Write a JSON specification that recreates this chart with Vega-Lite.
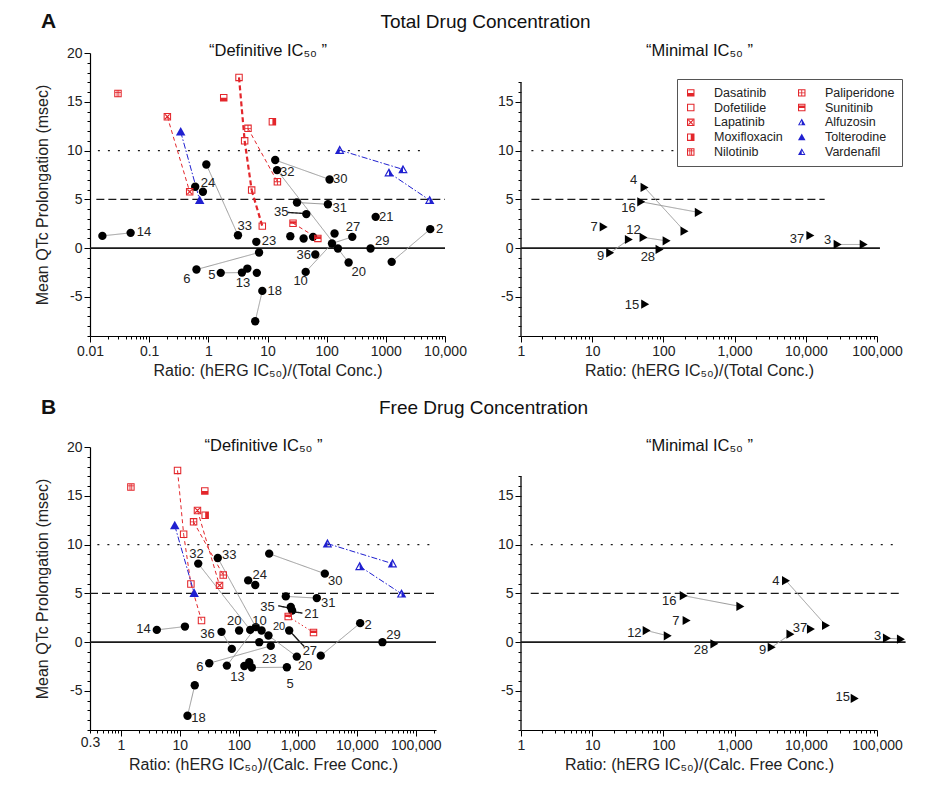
{
  "$schema": "https://vega.github.io/schema/vega-lite/v6.json",
  "padding": {"left": 33, "top": 10, "right": 5, "bottom": 5},
  "config": {
    "font": "Liberation Sans",
    "view": {"stroke": null},
    "axis": {"grid": false, "domainColor": "#000", "domainWidth": 1.2, "tickColor": "#000", "tickWidth": 1, "labelColor": "#222", "labelFontSize": 14, "titleColor": "#222", "titleFontSize": 16, "titleFontWeight": "normal", "labelPadding": 2},
    "title": {"color": "#111", "fontWeight": "normal", "baseline": "alphabetic"},
    "legend": {"orient": "none", "legendX": 587, "legendY": 26, "columnPadding": 12, "rowPadding": 1.8, "symbolSize": 56, "labelFontSize": 12.5, "labelColor": "#222", "labelOffset": 17, "padding": 7.5, "strokeColor": "#555", "fillColor": "#fff", "symbolStrokeWidth": 0}
  },
  "datasets": {
    "tls": [
      {"x": 0.01, "x2": 10000, "y": 0, "y2": 0, "s": "solid"},
      {"x": 0.0128, "x2": 10000, "y": 5, "y2": 5, "s": "dashed"},
      {"x": 0.0136, "x2": 3900, "y": 10, "y2": 10, "s": "dotted"},
      {"x": 0.0162, "y": 1.26, "x2": 0.0486, "y2": 1.57, "s": "gray"},
      {"x": 0.925, "y": 8.58, "x2": 3.17, "y2": 1.33, "s": "gray"},
      {"x": 0.63, "y": -2.19, "x2": 7.2, "y2": -0.44, "s": "gray"},
      {"x": 1.62, "y": -2.53, "x2": 3.7, "y2": -2.5, "s": "gray"},
      {"x": 8.17, "y": -4.38, "x2": 6.2, "y2": -7.49, "s": "gray"},
      {"x": 13.5, "y": 9.03, "x2": 112, "y2": 7.04, "s": "gray"},
      {"x": 14.5, "y": 8.0, "x2": 235, "y2": -1.47, "s": "gray"},
      {"x": 31.5, "y": 4.68, "x2": 105, "y2": 4.5, "s": "gray"},
      {"x": 5630, "y": 1.95, "x2": 1256, "y2": -1.4, "s": "gray"},
      {"x": 271, "y": 1.16, "x2": 123, "y2": 0.48, "s": "gray"},
      {"x": 44.2, "y": -2.43, "x2": 123, "y2": 0.48, "s": "gray"},
      {"x": 22.2, "y": 3.66, "x2": 39.8, "y2": 3.56, "s": "arrow"},
      {"x": 0.203, "y": 13.47, "x2": 0.484, "y2": 5.78, "s": "rthin"},
      {"x": 3.3, "y": 17.5, "x2": 4.11, "y2": 11.0, "s": "rthick"},
      {"x": 4.11, "y": 11.0, "x2": 5.4, "y2": 5.95, "s": "rthick"},
      {"x": 5.4, "y": 5.95, "x2": 8.17, "y2": 2.26, "s": "rthick"},
      {"x": 4.68, "y": 12.28, "x2": 14.7, "y2": 6.8, "s": "rthin"},
      {"x": 27, "y": 2.56, "x2": 71, "y2": 1.0, "s": "rthin"},
      {"x": 0.341, "y": 11.93, "x2": 0.714, "y2": 4.92, "s": "bdd"},
      {"x": 166, "y": 10.05, "x2": 1950, "y2": 8.07, "s": "bdd"},
      {"x": 1130, "y": 7.73, "x2": 5510, "y2": 4.92, "s": "bdd"}
    ],
    "tlp": [
      {"x": 0.0162, "y": 1.26, "sym": "dot"}, {"x": 0.0486, "y": 1.57, "sym": "dot"},
      {"x": 0.6, "y": 6.29, "sym": "dot"}, {"x": 0.81, "y": 5.78, "sym": "dot"},
      {"x": 0.925, "y": 8.58, "sym": "dot"}, {"x": 3.17, "y": 1.33, "sym": "dot"},
      {"x": 6.47, "y": 0.65, "sym": "dot"}, {"x": 0.63, "y": -2.19, "sym": "dot"},
      {"x": 7.2, "y": -0.44, "sym": "dot"}, {"x": 1.62, "y": -2.53, "sym": "dot"},
      {"x": 3.7, "y": -2.5, "sym": "dot"}, {"x": 4.57, "y": -2.09, "sym": "dot"},
      {"x": 6.6, "y": -2.53, "sym": "dot"}, {"x": 8.17, "y": -4.38, "sym": "dot"},
      {"x": 6.2, "y": -7.49, "sym": "dot"}, {"x": 13.5, "y": 9.03, "sym": "dot"},
      {"x": 112, "y": 7.04, "sym": "dot"}, {"x": 14.5, "y": 8.0, "sym": "dot"},
      {"x": 235, "y": -1.47, "sym": "dot"}, {"x": 31.5, "y": 4.68, "sym": "dot"},
      {"x": 105, "y": 4.5, "sym": "dot"}, {"x": 45.3, "y": 3.49, "sym": "dot"},
      {"x": 673, "y": 3.21, "sym": "dot"}, {"x": 5630, "y": 1.95, "sym": "dot"},
      {"x": 1256, "y": -1.4, "sym": "dot"}, {"x": 24.3, "y": 1.23, "sym": "dot"},
      {"x": 40.8, "y": 0.99, "sym": "dot"}, {"x": 58.9, "y": 1.16, "sym": "dot"},
      {"x": 136, "y": 1.5, "sym": "dot"}, {"x": 271, "y": 1.16, "sym": "dot"},
      {"x": 123, "y": 0.48, "sym": "dot"}, {"x": 155, "y": -0.03, "sym": "dot"},
      {"x": 552, "y": -0.03, "sym": "dot"}, {"x": 64.3, "y": -0.65, "sym": "dot"},
      {"x": 44.2, "y": -2.43, "sym": "dot"},
      {"x": 0.0297, "y": 15.85, "sym": "Nilotinib"},
      {"x": 0.203, "y": 13.47, "sym": "Lapatinib"}, {"x": 0.484, "y": 5.78, "sym": "Lapatinib"},
      {"x": 0.341, "y": 11.93, "sym": "Tolterodine"}, {"x": 0.714, "y": 4.92, "sym": "Tolterodine"},
      {"x": 1.82, "y": 15.42, "sym": "Dasatinib"},
      {"x": 3.3, "y": 17.5, "sym": "Dofetilide"}, {"x": 4.11, "y": 11.0, "sym": "Dofetilide"},
      {"x": 5.4, "y": 5.95, "sym": "Dofetilide"}, {"x": 8.17, "y": 2.26, "sym": "Dofetilide"},
      {"x": 12.1, "y": 12.95, "sym": "Moxifloxacin"},
      {"x": 4.68, "y": 12.28, "sym": "Paliperidone"}, {"x": 14.7, "y": 6.8, "sym": "Paliperidone"},
      {"x": 27, "y": 2.56, "sym": "Sunitinib"}, {"x": 71, "y": 1.0, "sym": "Sunitinib"},
      {"x": 166, "y": 10.05, "sym": "Vardenafil"}, {"x": 1950, "y": 8.07, "sym": "Vardenafil"},
      {"x": 1130, "y": 7.73, "sym": "Alfuzosin"}, {"x": 5510, "y": 4.92, "sym": "Alfuzosin"}
    ],
    "tll": [
      {"x": 0.0818, "y": 1.61, "t": "14"}, {"x": 0.987, "y": 6.7, "t": "24"},
      {"x": 4.11, "y": 2.29, "t": "33"}, {"x": 10.6, "y": 0.72, "t": "23"},
      {"x": 0.435, "y": -3.11, "t": "6"}, {"x": 1.15, "y": -2.77, "t": "5"},
      {"x": 3.85, "y": -3.62, "t": "13"}, {"x": 13.2, "y": -4.38, "t": "18"},
      {"x": 21.6, "y": 7.83, "t": "32"}, {"x": 170, "y": 7.04, "t": "30"},
      {"x": 166, "y": 4.14, "t": "31"}, {"x": 17.1, "y": 3.72, "t": "35"},
      {"x": 279, "y": 2.19, "t": "27"}, {"x": 1020, "y": 3.21, "t": "21"},
      {"x": 871, "y": 0.75, "t": "29"}, {"x": 8130, "y": 1.95, "t": "2"},
      {"x": 40.8, "y": -0.72, "t": "36"}, {"x": 36.3, "y": -3.38, "t": "10"},
      {"x": 347, "y": -2.43, "t": "20"}
    ],
    "trs": [
      {"x": 1, "x2": 110000, "y": 0, "y2": 0, "s": "solid"},
      {"x": 1.4, "x2": 18400, "y": 5, "y2": 5, "s": "dashed"},
      {"x": 1.4, "x2": 176, "y": 10, "y2": 10, "s": "dotted"},
      {"x": 1, "x2": 1, "y": -9, "y2": 17, "s": "axis"},
      {"x": 54.4, "y": 6.22, "x2": 198, "y2": 1.74, "s": "gray"},
      {"x": 48.8, "y": 4.75, "x2": 314, "y2": 3.66, "s": "gray"},
      {"x": 52.6, "y": 1.1, "x2": 111, "y2": 0.75, "s": "gray"},
      {"x": 17.9, "y": -0.48, "x2": 32.7, "y2": 0.89, "s": "gray"},
      {"x": 28000, "y": 0.38, "x2": 65000, "y2": 0.38, "s": "gray"}
    ],
    "trp": [
      {"x": 54.4, "y": 6.22, "sym": "tri"}, {"x": 198, "y": 1.74, "sym": "tri"},
      {"x": 48.8, "y": 4.75, "sym": "tri"}, {"x": 314, "y": 3.66, "sym": "tri"},
      {"x": 14.5, "y": 2.18, "sym": "tri"},
      {"x": 52.6, "y": 1.1, "sym": "tri"}, {"x": 111, "y": 0.75, "sym": "tri"},
      {"x": 17.9, "y": -0.48, "sym": "tri"}, {"x": 32.7, "y": 0.89, "sym": "tri"},
      {"x": 88.3, "y": -0.13, "sym": "tri"}, {"x": 55.5, "y": -5.74, "sym": "tri"},
      {"x": 11600, "y": 1.3, "sym": "tri"},
      {"x": 28000, "y": 0.38, "sym": "tri"}, {"x": 65000, "y": 0.38, "sym": "tri"}
    ],
    "trl": [
      {"x": 38.1, "y": 6.97, "t": "4"}, {"x": 32.4, "y": 4.07, "t": "16"},
      {"x": 10.6, "y": 2.18, "t": "7"}, {"x": 38.1, "y": 1.85, "t": "12"},
      {"x": 13.1, "y": -0.79, "t": "9"}, {"x": 60.5, "y": -0.95, "t": "28"},
      {"x": 36.1, "y": -5.85, "t": "15"}, {"x": 7530, "y": 0.99, "t": "37"},
      {"x": 20300, "y": 0.82, "t": "3"}
    ],
    "bls": [
      {"x": 0.3, "x2": 220000, "y": 0, "y2": 0, "s": "solid"},
      {"x": 0.3, "x2": 220000, "y": 5, "y2": 5, "s": "dashed"},
      {"x": 0.4, "x2": 207000, "y": 10, "y2": 10, "s": "dotted"},
      {"x": 4.07, "y": 1.26, "x2": 12.2, "y2": 1.6, "s": "gray"},
      {"x": 17.9, "y": -4.42, "x2": 13.5, "y2": -7.54, "s": "gray"},
      {"x": 20.5, "y": 8.05, "x2": 156, "y2": 1.26, "s": "gray"},
      {"x": 44, "y": 8.63, "x2": 194, "y2": 1.54, "s": "gray"},
      {"x": 327, "y": 9.07, "x2": 2870, "y2": 7.02, "s": "gray"},
      {"x": 50.9, "y": 1.06, "x2": 76, "y2": -0.69, "s": "gray"},
      {"x": 243, "y": 1.2, "x2": 961, "y2": -1.48, "s": "gray"},
      {"x": 31.5, "y": -2.16, "x2": 348, "y2": -0.38, "s": "gray"},
      {"x": 166, "y": -2.6, "x2": 652, "y2": -2.57, "s": "gray"},
      {"x": 626, "y": 4.69, "x2": 2100, "y2": 4.52, "s": "gray"},
      {"x": 2450, "y": -1.38, "x2": 11400, "y2": 1.95, "s": "gray"},
      {"x": 62.7, "y": -2.4, "x2": 194, "y2": 1.54, "s": "gray"},
      {"x": 466, "y": 3.73, "x2": 687, "y2": 3.52, "s": "arrow"},
      {"x": 1200, "y": 2.98, "x2": 890, "y2": 3.1, "s": "arrow"},
      {"x": 714, "y": 1.2, "x2": 1283, "y2": -0.45, "s": "arrow"},
      {"x": 9.14, "y": 17.6, "x2": 11.6, "y2": 11.06, "s": "rthin"},
      {"x": 11.6, "y": 11.06, "x2": 15.4, "y2": 5.96, "s": "rthin"},
      {"x": 15.4, "y": 5.96, "x2": 23.3, "y2": 2.22, "s": "rthin"},
      {"x": 19.9, "y": 13.5, "x2": 47.1, "y2": 5.82, "s": "rthin"},
      {"x": 17.1, "y": 12.33, "x2": 54.4, "y2": 6.88, "s": "rthin"},
      {"x": 687, "y": 2.63, "x2": 1845, "y2": 0.99, "s": "rdot"},
      {"x": 8.2, "y": 11.95, "x2": 17.5, "y2": 5.03, "s": "bdd"},
      {"x": 3180, "y": 10.1, "x2": 40300, "y2": 8.05, "s": "bdd"},
      {"x": 11200, "y": 7.77, "x2": 57300, "y2": 4.96, "s": "bdd"}
    ],
    "blp": [
      {"x": 4.07, "y": 1.26, "sym": "dot"}, {"x": 12.2, "y": 1.6, "sym": "dot"},
      {"x": 20.5, "y": 8.05, "sym": "dot"}, {"x": 44, "y": 8.63, "sym": "dot"},
      {"x": 327, "y": 9.07, "sym": "dot"}, {"x": 2870, "y": 7.02, "sym": "dot"},
      {"x": 144, "y": 6.33, "sym": "dot"}, {"x": 190, "y": 5.86, "sym": "dot"},
      {"x": 50.9, "y": 1.06, "sym": "dot"}, {"x": 76, "y": -0.69, "sym": "dot"},
      {"x": 101, "y": 1.2, "sym": "dot"}, {"x": 156, "y": 1.26, "sym": "dot"},
      {"x": 194, "y": 1.54, "sym": "dot"}, {"x": 243, "y": 1.2, "sym": "dot"},
      {"x": 318, "y": 0.68, "sym": "dot"}, {"x": 222, "y": 0.0, "sym": "dot"},
      {"x": 348, "y": -0.38, "sym": "dot"}, {"x": 31.5, "y": -2.16, "sym": "dot"},
      {"x": 62.7, "y": -2.4, "sym": "dot"}, {"x": 124, "y": -2.44, "sym": "dot"},
      {"x": 150, "y": -2.06, "sym": "dot"}, {"x": 166, "y": -2.6, "sym": "dot"},
      {"x": 652, "y": -2.57, "sym": "dot"}, {"x": 17.9, "y": -4.42, "sym": "dot"},
      {"x": 13.5, "y": -7.54, "sym": "dot"}, {"x": 626, "y": 4.69, "sym": "dot"},
      {"x": 2100, "y": 4.52, "sym": "dot"}, {"x": 760, "y": 3.6, "sym": "dot"},
      {"x": 800, "y": 3.25, "sym": "dot"}, {"x": 714, "y": 1.2, "sym": "dot"},
      {"x": 961, "y": -1.48, "sym": "dot"}, {"x": 2450, "y": -1.38, "sym": "dot"},
      {"x": 11400, "y": 1.95, "sym": "dot"}, {"x": 27200, "y": 0.0, "sym": "dot"},
      {"x": 1.48, "y": 15.9, "sym": "Nilotinib"},
      {"x": 9.14, "y": 17.6, "sym": "Dofetilide"}, {"x": 11.6, "y": 11.06, "sym": "Dofetilide"},
      {"x": 15.4, "y": 5.96, "sym": "Dofetilide"}, {"x": 23.3, "y": 2.22, "sym": "Dofetilide"},
      {"x": 26.5, "y": 15.5, "sym": "Dasatinib"},
      {"x": 26.9, "y": 13.0, "sym": "Moxifloxacin"},
      {"x": 19.9, "y": 13.5, "sym": "Lapatinib"}, {"x": 47.1, "y": 5.82, "sym": "Lapatinib"},
      {"x": 17.1, "y": 12.33, "sym": "Paliperidone"}, {"x": 54.4, "y": 6.88, "sym": "Paliperidone"},
      {"x": 8.2, "y": 11.95, "sym": "Tolterodine"}, {"x": 17.5, "y": 5.03, "sym": "Tolterodine"},
      {"x": 687, "y": 2.63, "sym": "Sunitinib"}, {"x": 1845, "y": 0.99, "sym": "Sunitinib"},
      {"x": 3180, "y": 10.1, "sym": "Vardenafil"}, {"x": 40300, "y": 8.05, "sym": "Vardenafil"},
      {"x": 11200, "y": 7.77, "sym": "Alfuzosin"}, {"x": 57300, "y": 4.96, "sym": "Alfuzosin"}
    ],
    "bll": [
      {"x": 2.42, "y": 1.34, "t": "14"}, {"x": 19.2, "y": 9.07, "t": "32"},
      {"x": 68.8, "y": 8.97, "t": "33"}, {"x": 227, "y": 6.92, "t": "24"},
      {"x": 4300, "y": 6.3, "t": "30"}, {"x": 3270, "y": 4.0, "t": "31"},
      {"x": 306, "y": 3.62, "t": "35"}, {"x": 1710, "y": 2.91, "t": "21"},
      {"x": 83.5, "y": 2.22, "t": "20"}, {"x": 225, "y": 2.2, "t": "10"},
      {"x": 480, "y": 1.6, "t": "20"}, {"x": 29.5, "y": 0.82, "t": "36"},
      {"x": 15600, "y": 1.78, "t": "2"}, {"x": 41900, "y": 0.75, "t": "29"},
      {"x": 1600, "y": -0.89, "t": "27"}, {"x": 327, "y": -1.72, "t": "23"},
      {"x": 1330, "y": -2.44, "t": "20"}, {"x": 21.8, "y": -2.5, "t": "6"},
      {"x": 95, "y": -3.53, "t": "13"}, {"x": 743, "y": -4.29, "t": "5"},
      {"x": 20.7, "y": -7.81, "t": "18"}
    ],
    "brs": [
      {"x": 1, "x2": 252000, "y": 0, "y2": 0, "s": "solid"},
      {"x": 1.37, "x2": 208000, "y": 5, "y2": 5, "s": "dashed"},
      {"x": 1.37, "x2": 195000, "y": 10, "y2": 10, "s": "dotted"},
      {"x": 1, "x2": 1, "y": -9, "y2": 17, "s": "axis"},
      {"x": 5270, "y": 6.3, "x2": 19200, "y2": 1.71, "s": "gray"},
      {"x": 193, "y": 4.76, "x2": 1205, "y2": 3.66, "s": "gray"},
      {"x": 58.2, "y": 1.19, "x2": 115, "y2": 0.65, "s": "gray"},
      {"x": 3320, "y": -0.52, "x2": 6080, "y2": 0.82, "s": "gray"},
      {"x": 138000, "y": 0.41, "x2": 217000, "y2": 0.31, "s": "gray"}
    ],
    "brp": [
      {"x": 5270, "y": 6.3, "sym": "tri"}, {"x": 19200, "y": 1.71, "sym": "tri"},
      {"x": 193, "y": 4.76, "sym": "tri"}, {"x": 1205, "y": 3.66, "sym": "tri"},
      {"x": 212, "y": 2.22, "sym": "tri"},
      {"x": 58.2, "y": 1.19, "sym": "tri"}, {"x": 115, "y": 0.65, "sym": "tri"},
      {"x": 520, "y": -0.17, "sym": "tri"},
      {"x": 3320, "y": -0.52, "sym": "tri"}, {"x": 6080, "y": 0.82, "sym": "tri"},
      {"x": 11800, "y": 1.34, "sym": "tri"},
      {"x": 138000, "y": 0.41, "sym": "tri"}, {"x": 217000, "y": 0.31, "sym": "tri"},
      {"x": 48600, "y": -5.76, "sym": "tri"}
    ],
    "brl": [
      {"x": 3810, "y": 6.3, "t": "4"}, {"x": 121, "y": 4.17, "t": "16"},
      {"x": 150, "y": 2.22, "t": "7"}, {"x": 39.1, "y": 0.99, "t": "12"},
      {"x": 337, "y": -0.79, "t": "28"}, {"x": 2480, "y": -0.79, "t": "9"},
      {"x": 8300, "y": 1.5, "t": "37"}, {"x": 102000, "y": 0.65, "t": "3"},
      {"x": 33000, "y": -5.65, "t": "15"}
    ]
  },
  "columns": 2,
  "bounds": "flush",
  "spacing": {"row": 111, "column": 76},
  "concat": [
    {
      "width": 355,
      "height": 283,
      "title": {"text": "A", "anchor": "start", "frame": "group", "dx": -49, "fontSize": 21, "fontWeight": "bold", "offset": 11},
      "resolve": {"axis": {"x": "independent", "y": "independent"}},
      "layer": [
        {
          "data": {"name": "tls"},
          "mark": {"type": "rule"},
          "encoding": {
            "x": {"field": "x", "type": "quantitative", "scale": {"type": "log", "domain": [0.01, 10000], "nice": false},
              "axis": {"orient": "bottom", "title": "Ratio:  (hERG IC₅₀)/(Total Conc.)", "tickCount": 20, "labelFlush": false, "labelOverlap": false, "titlePadding": 4,
                "labelExpr": "abs(log(datum.value)/LN10 - round(log(datum.value)/LN10)) < 0.001 ? (datum.value > 5000 ? format(datum.value, ',') : format(datum.value, '')) : ''",
                "tickSize": {"condition": {"test": "abs(log(datum.value)/LN10 - round(log(datum.value)/LN10)) < 0.001", "value": 6}, "value": 3}}},
            "x2": {"field": "x2"},
            "y": {"field": "y", "type": "quantitative", "scale": {"domain": [-9, 20], "nice": false, "zero": false},
              "axis": {"orient": "left", "title": "Mean QTc  Prolongation (msec)", "titleX": -40, "labelOverlap": false,
                "values": [-9, -8, -7, -6, -5, -4, -3, -2, -1, 0, 1, 2, 3, 4, 5, 6, 7, 8, 9, 10, 11, 12, 13, 14, 15, 16, 17, 18, 19, 20],
                "labelExpr": "datum.value % 5 == 0 ? '' + datum.value : ''",
                "tickSize": {"condition": {"test": "datum.value % 5 == 0", "value": 6}, "value": 3}}},
            "y2": {"field": "y2"},
            "strokeDash": {"field": "s", "type": "nominal", "legend": null,
              "scale": {"domain": ["solid", "dashed", "dotted", "gray", "arrow", "axis", "rthick", "rthin", "rdot", "bdd"],
                "range": [[1, 0], [8, 4], [2, 8], [1, 0], [1, 0], [1, 0], [5, 3], [4, 3], [1.5, 2.5], [6, 2, 1.5, 2]]}},
            "color": {"condition": [{"test": "datum.s == 'gray'", "value": "#9a9a9a"}, {"test": "indexof(['rthick', 'rthin', 'rdot'], datum.s) >= 0", "value": "#e3262b"}, {"test": "datum.s == 'bdd'", "value": "#2020d0"}], "value": "#1a1a1a"},
            "strokeWidth": {"condition": [{"test": "datum.s == 'rthick'", "value": 2.2}, {"test": "datum.s == 'solid'", "value": 1.8}, {"test": "indexof(['dashed', 'dotted', 'axis', 'arrow'], datum.s) >= 0", "value": 1.4}], "value": 1}
          }
        },
        {
          "data": {"name": "tlp"},
          "mark": {"type": "point", "filled": true, "opacity": 1},
          "encoding": {
            "x": {"field": "x", "type": "quantitative", "axis": null},
            "y": {"field": "y", "type": "quantitative", "axis": null},
            "shape": {"field": "sym", "type": "nominal", "legend": {"title": null, "columns": 2, "values": ["Dasatinib", "Dofetilide", "Lapatinib", "Moxifloxacin", "Nilotinib", "Paliperidone", "Sunitinib", "Alfuzosin", "Tolterodine", "Vardenafil"]},
              "scale": {"domain": ["Dasatinib", "Dofetilide", "Lapatinib", "Moxifloxacin", "Nilotinib", "Paliperidone", "Sunitinib", "Alfuzosin", "Tolterodine", "Vardenafil", "dot", "tri"],
                "range": ["M-1,-1H1V1H-1Z M-0.72,-0.72V0.72H0.72V-0.72Z M-1,0H1V1H-1Z", "M-1,-1H1V1H-1Z M-0.72,-0.72V0.72H0.72V-0.72Z", "M-1,-1H1V1H-1Z M-0.72,-0.72V0.72H0.72V-0.72Z M-0.72,-0.5L-0.5,-0.72L0.72,0.5L0.5,0.72Z M0.5,-0.72L0.72,-0.5L-0.5,0.72L-0.72,0.5Z", "M-1,-1H1V1H-1Z M-0.72,-0.72V0.72H0.72V-0.72Z M0,-1H1V1H0Z", "M-1,-1H1V1H-1Z M-0.72,-0.72V0.72H0.72V-0.72Z M-0.36,-1H-0.12V1H-0.36Z M0.12,-1H0.36V1H0.12Z M-1,-0.42H1V-0.18H-1Z", "M-1,-1H1V1H-1Z M-0.72,-0.72V0.72H0.72V-0.72Z M-0.12,-1H0.12V1H-0.12Z M-1,-0.12H1V0.12H-1Z", "M-1,-1H1V1H-1Z M-0.72,-0.72V0.72H0.72V-0.72Z M-1,-0.55H1V0.15H-1Z", "M0,-1L1,0.8H-1Z M0,-0.42L-0.6,0.55H0.6Z M0,-1L1,0.8H0Z", "M0,-1L1,0.8H-1Z", "M0,-1L1,0.8H-1Z M0,-0.42L-0.6,0.55H0.6Z M0,-1V0.8H-1Z", "circle", "triangle-right"]}},
            "color": {"field": "sym", "type": "nominal", "legend": {"title": null, "columns": 2, "values": ["Dasatinib", "Dofetilide", "Lapatinib", "Moxifloxacin", "Nilotinib", "Paliperidone", "Sunitinib", "Alfuzosin", "Tolterodine", "Vardenafil"]},
              "scale": {"domain": ["Dasatinib", "Dofetilide", "Lapatinib", "Moxifloxacin", "Nilotinib", "Paliperidone", "Sunitinib", "Alfuzosin", "Tolterodine", "Vardenafil", "dot", "tri"],
                "range": ["#e3262b", "#e3262b", "#e3262b", "#e3262b", "#e3262b", "#e3262b", "#e3262b", "#2020d0", "#2020d0", "#2020d0", "#000000", "#000000"]}},
            "size": {"condition": [{"test": "datum.sym == 'dot'", "value": 70}, {"test": "datum.sym == 'tri'", "value": 85}, {"test": "indexof(['Alfuzosin', 'Tolterodine', 'Vardenafil'], datum.sym) >= 0", "value": 90}], "value": 56}
          }
        },
        {
          "data": {"name": "tll"},
          "mark": {"type": "text", "fontSize": 13, "color": "#222"},
          "encoding": {
            "x": {"field": "x", "type": "quantitative", "axis": {"orient": "top", "title": "“Definitive IC₅₀ ”", "labels": false, "ticks": false, "domain": false, "titleY": -2.5, "titleBaseline": "middle", "titleFontSize": 16.5, "titleColor": "#111"}},
            "y": {"field": "y", "type": "quantitative", "axis": null},
            "text": {"field": "t"}
          }
        }
      ]
    },
    {
      "width": 356,
      "height": 283,
      "title": {"text": "Total Drug Concentration", "anchor": "middle", "frame": "group", "dx": -213.5, "fontSize": 19, "offset": 11},
      "resolve": {"axis": {"x": "independent", "y": "independent"}},
      "layer": [
        {
          "data": {"name": "trs"},
          "mark": {"type": "rule"},
          "encoding": {
            "x": {"field": "x", "type": "quantitative", "scale": {"type": "log", "domain": [1, 100000], "nice": false},
              "axis": {"orient": "bottom", "title": "Ratio:  (hERG IC₅₀)/(Total Conc.)", "tickCount": 20, "labelFlush": false, "labelOverlap": false, "titlePadding": 4,
                "labelExpr": "abs(log(datum.value)/LN10 - round(log(datum.value)/LN10)) < 0.001 ? format(datum.value, ',') : ''",
                "tickSize": {"condition": {"test": "abs(log(datum.value)/LN10 - round(log(datum.value)/LN10)) < 0.001", "value": 6}, "value": 3}}},
            "x2": {"field": "x2"},
            "y": {"field": "y", "type": "quantitative", "scale": {"domain": [-9, 20], "nice": false, "zero": false},
              "axis": {"orient": "left", "title": null, "domain": false, "labelOverlap": false,
                "values": [-9, -8, -7, -6, -5, -4, -3, -2, -1, 0, 1, 2, 3, 4, 5, 6, 7, 8, 9, 10, 11, 12, 13, 14, 15, 16, 17],
                "labelExpr": "datum.value % 5 == 0 ? '' + datum.value : ''",
                "tickSize": {"condition": {"test": "datum.value % 5 == 0", "value": 6}, "value": 3}}},
            "y2": {"field": "y2"},
            "strokeDash": {"field": "s", "type": "nominal", "legend": null,
              "scale": {"domain": ["solid", "dashed", "dotted", "gray", "arrow", "axis", "rthick", "rthin", "rdot", "bdd"],
                "range": [[1, 0], [8, 4], [2, 8], [1, 0], [1, 0], [1, 0], [5, 3], [4, 3], [1.5, 2.5], [6, 2, 1.5, 2]]}},
            "color": {"condition": [{"test": "datum.s == 'gray'", "value": "#9a9a9a"}], "value": "#1a1a1a"},
            "strokeWidth": {"condition": [{"test": "datum.s == 'solid'", "value": 1.8}, {"test": "indexof(['dashed', 'dotted', 'axis'], datum.s) >= 0", "value": 1.4}], "value": 1}
          }
        },
        {
          "data": {"name": "trp"},
          "mark": {"type": "point", "filled": true, "opacity": 1},
          "encoding": {
            "x": {"field": "x", "type": "quantitative", "axis": null},
            "y": {"field": "y", "type": "quantitative", "axis": null},
            "shape": {"field": "sym", "type": "nominal", "legend": {"title": null, "columns": 2, "values": ["Dasatinib", "Dofetilide", "Lapatinib", "Moxifloxacin", "Nilotinib", "Paliperidone", "Sunitinib", "Alfuzosin", "Tolterodine", "Vardenafil"]},
              "scale": {"domain": ["Dasatinib", "Dofetilide", "Lapatinib", "Moxifloxacin", "Nilotinib", "Paliperidone", "Sunitinib", "Alfuzosin", "Tolterodine", "Vardenafil", "dot", "tri"],
                "range": ["M-1,-1H1V1H-1Z M-0.72,-0.72V0.72H0.72V-0.72Z M-1,0H1V1H-1Z", "M-1,-1H1V1H-1Z M-0.72,-0.72V0.72H0.72V-0.72Z", "M-1,-1H1V1H-1Z M-0.72,-0.72V0.72H0.72V-0.72Z M-0.72,-0.5L-0.5,-0.72L0.72,0.5L0.5,0.72Z M0.5,-0.72L0.72,-0.5L-0.5,0.72L-0.72,0.5Z", "M-1,-1H1V1H-1Z M-0.72,-0.72V0.72H0.72V-0.72Z M0,-1H1V1H0Z", "M-1,-1H1V1H-1Z M-0.72,-0.72V0.72H0.72V-0.72Z M-0.36,-1H-0.12V1H-0.36Z M0.12,-1H0.36V1H0.12Z M-1,-0.42H1V-0.18H-1Z", "M-1,-1H1V1H-1Z M-0.72,-0.72V0.72H0.72V-0.72Z M-0.12,-1H0.12V1H-0.12Z M-1,-0.12H1V0.12H-1Z", "M-1,-1H1V1H-1Z M-0.72,-0.72V0.72H0.72V-0.72Z M-1,-0.55H1V0.15H-1Z", "M0,-1L1,0.8H-1Z M0,-0.42L-0.6,0.55H0.6Z M0,-1L1,0.8H0Z", "M0,-1L1,0.8H-1Z", "M0,-1L1,0.8H-1Z M0,-0.42L-0.6,0.55H0.6Z M0,-1V0.8H-1Z", "circle", "triangle-right"]}},
            "color": {"field": "sym", "type": "nominal", "legend": {"title": null, "columns": 2, "values": ["Dasatinib", "Dofetilide", "Lapatinib", "Moxifloxacin", "Nilotinib", "Paliperidone", "Sunitinib", "Alfuzosin", "Tolterodine", "Vardenafil"]},
              "scale": {"domain": ["Dasatinib", "Dofetilide", "Lapatinib", "Moxifloxacin", "Nilotinib", "Paliperidone", "Sunitinib", "Alfuzosin", "Tolterodine", "Vardenafil", "dot", "tri"],
                "range": ["#e3262b", "#e3262b", "#e3262b", "#e3262b", "#e3262b", "#e3262b", "#e3262b", "#2020d0", "#2020d0", "#2020d0", "#000000", "#000000"]}},
            "size": {"condition": [{"test": "datum.sym == 'dot'", "value": 70}, {"test": "datum.sym == 'tri'", "value": 85}], "value": 56}
          }
        },
        {
          "data": {"name": "trl"},
          "mark": {"type": "text", "fontSize": 13, "color": "#222"},
          "encoding": {
            "x": {"field": "x", "type": "quantitative", "axis": {"orient": "top", "title": "“Minimal IC₅₀ ”", "labels": false, "ticks": false, "domain": false, "titleY": -2.5, "titleBaseline": "middle", "titleFontSize": 16.5, "titleColor": "#111"}},
            "y": {"field": "y", "type": "quantitative", "axis": null},
            "text": {"field": "t"}
          }
        }
      ]
    },
    {
      "width": 346,
      "height": 283,
      "title": {"text": "B", "anchor": "start", "frame": "group", "dx": -49, "fontSize": 21, "fontWeight": "bold", "offset": 20},
      "resolve": {"axis": {"x": "independent", "y": "independent"}},
      "layer": [
        {
          "data": {"name": "bls"},
          "mark": {"type": "rule"},
          "encoding": {
            "x": {"field": "x", "type": "quantitative", "scale": {"type": "log", "domain": [0.3, 220000], "nice": false},
              "axis": {"orient": "bottom", "title": "Ratio:  (hERG IC₅₀)/(Calc. Free Conc.)", "tickCount": 20, "labelFlush": false, "labelOverlap": false, "titlePadding": 4,
                "labelExpr": "abs(log(datum.value)/LN10 - round(log(datum.value)/LN10)) < 0.001 || abs(datum.value - 0.3) < 0.001 ? format(datum.value, ',') : ''",
                "tickSize": {"condition": {"test": "abs(log(datum.value)/LN10 - round(log(datum.value)/LN10)) < 0.001", "value": 6}, "value": 3}}},
            "x2": {"field": "x2"},
            "y": {"field": "y", "type": "quantitative", "scale": {"domain": [-9, 20], "nice": false, "zero": false},
              "axis": {"orient": "left", "title": "Mean QTc Prolongation (msec)", "titleX": -40, "labelOverlap": false,
                "values": [-9, -8, -7, -6, -5, -4, -3, -2, -1, 0, 1, 2, 3, 4, 5, 6, 7, 8, 9, 10, 11, 12, 13, 14, 15, 16, 17, 18, 19, 20],
                "labelExpr": "datum.value % 5 == 0 ? '' + datum.value : ''",
                "tickSize": {"condition": {"test": "datum.value % 5 == 0", "value": 6}, "value": 3}}},
            "y2": {"field": "y2"},
            "strokeDash": {"field": "s", "type": "nominal", "legend": null,
              "scale": {"domain": ["solid", "dashed", "dotted", "gray", "arrow", "axis", "rthick", "rthin", "rdot", "bdd"],
                "range": [[1, 0], [8, 4], [2, 8], [1, 0], [1, 0], [1, 0], [5, 3], [4, 3], [1.5, 2.5], [6, 2, 1.5, 2]]}},
            "color": {"condition": [{"test": "datum.s == 'gray'", "value": "#9a9a9a"}, {"test": "indexof(['rthick', 'rthin', 'rdot'], datum.s) >= 0", "value": "#e3262b"}, {"test": "datum.s == 'bdd'", "value": "#2020d0"}], "value": "#1a1a1a"},
            "strokeWidth": {"condition": [{"test": "datum.s == 'rthick'", "value": 2.2}, {"test": "datum.s == 'solid'", "value": 1.8}, {"test": "indexof(['dashed', 'dotted', 'axis', 'arrow'], datum.s) >= 0", "value": 1.4}], "value": 1}
          }
        },
        {
          "data": {"name": "blp"},
          "mark": {"type": "point", "filled": true, "opacity": 1},
          "encoding": {
            "x": {"field": "x", "type": "quantitative", "axis": null},
            "y": {"field": "y", "type": "quantitative", "axis": null},
            "shape": {"field": "sym", "type": "nominal", "legend": {"title": null, "columns": 2, "values": ["Dasatinib", "Dofetilide", "Lapatinib", "Moxifloxacin", "Nilotinib", "Paliperidone", "Sunitinib", "Alfuzosin", "Tolterodine", "Vardenafil"]},
              "scale": {"domain": ["Dasatinib", "Dofetilide", "Lapatinib", "Moxifloxacin", "Nilotinib", "Paliperidone", "Sunitinib", "Alfuzosin", "Tolterodine", "Vardenafil", "dot", "tri"],
                "range": ["M-1,-1H1V1H-1Z M-0.72,-0.72V0.72H0.72V-0.72Z M-1,0H1V1H-1Z", "M-1,-1H1V1H-1Z M-0.72,-0.72V0.72H0.72V-0.72Z", "M-1,-1H1V1H-1Z M-0.72,-0.72V0.72H0.72V-0.72Z M-0.72,-0.5L-0.5,-0.72L0.72,0.5L0.5,0.72Z M0.5,-0.72L0.72,-0.5L-0.5,0.72L-0.72,0.5Z", "M-1,-1H1V1H-1Z M-0.72,-0.72V0.72H0.72V-0.72Z M0,-1H1V1H0Z", "M-1,-1H1V1H-1Z M-0.72,-0.72V0.72H0.72V-0.72Z M-0.36,-1H-0.12V1H-0.36Z M0.12,-1H0.36V1H0.12Z M-1,-0.42H1V-0.18H-1Z", "M-1,-1H1V1H-1Z M-0.72,-0.72V0.72H0.72V-0.72Z M-0.12,-1H0.12V1H-0.12Z M-1,-0.12H1V0.12H-1Z", "M-1,-1H1V1H-1Z M-0.72,-0.72V0.72H0.72V-0.72Z M-1,-0.55H1V0.15H-1Z", "M0,-1L1,0.8H-1Z M0,-0.42L-0.6,0.55H0.6Z M0,-1L1,0.8H0Z", "M0,-1L1,0.8H-1Z", "M0,-1L1,0.8H-1Z M0,-0.42L-0.6,0.55H0.6Z M0,-1V0.8H-1Z", "circle", "triangle-right"]}},
            "color": {"field": "sym", "type": "nominal", "legend": {"title": null, "columns": 2, "values": ["Dasatinib", "Dofetilide", "Lapatinib", "Moxifloxacin", "Nilotinib", "Paliperidone", "Sunitinib", "Alfuzosin", "Tolterodine", "Vardenafil"]},
              "scale": {"domain": ["Dasatinib", "Dofetilide", "Lapatinib", "Moxifloxacin", "Nilotinib", "Paliperidone", "Sunitinib", "Alfuzosin", "Tolterodine", "Vardenafil", "dot", "tri"],
                "range": ["#e3262b", "#e3262b", "#e3262b", "#e3262b", "#e3262b", "#e3262b", "#e3262b", "#2020d0", "#2020d0", "#2020d0", "#000000", "#000000"]}},
            "size": {"condition": [{"test": "datum.sym == 'dot'", "value": 70}, {"test": "datum.sym == 'tri'", "value": 85}, {"test": "indexof(['Alfuzosin', 'Tolterodine', 'Vardenafil'], datum.sym) >= 0", "value": 90}], "value": 56}
          }
        },
        {
          "data": {"name": "bll"},
          "mark": {"type": "text", "fontSize": 13, "color": "#222"},
          "encoding": {
            "x": {"field": "x", "type": "quantitative", "axis": {"orient": "top", "title": "“Definitive IC₅₀ ”", "labels": false, "ticks": false, "domain": false, "titleY": -1.5, "titleBaseline": "middle", "titleFontSize": 16.5, "titleColor": "#111"}},
            "y": {"field": "y", "type": "quantitative", "axis": null},
            "text": {"field": "t"},
            "size": {"condition": {"test": "datum.x == 480", "value": 11}, "value": 13}
          }
        }
      ]
    },
    {
      "width": 356,
      "height": 283,
      "title": {"text": "Free Drug Concentration", "anchor": "middle", "frame": "group", "dx": -215.5, "fontSize": 19, "offset": 20},
      "resolve": {"axis": {"x": "independent", "y": "independent"}},
      "layer": [
        {
          "data": {"name": "brs"},
          "mark": {"type": "rule"},
          "encoding": {
            "x": {"field": "x", "type": "quantitative", "scale": {"type": "log", "domain": [1, 100000], "nice": false},
              "axis": {"orient": "bottom", "title": "Ratio:  (hERG IC₅₀)/(Calc. Free Conc.)", "tickCount": 20, "labelFlush": false, "labelOverlap": false, "titlePadding": 4,
                "labelExpr": "abs(log(datum.value)/LN10 - round(log(datum.value)/LN10)) < 0.001 ? format(datum.value, ',') : ''",
                "tickSize": {"condition": {"test": "abs(log(datum.value)/LN10 - round(log(datum.value)/LN10)) < 0.001", "value": 6}, "value": 3}}},
            "x2": {"field": "x2"},
            "y": {"field": "y", "type": "quantitative", "scale": {"domain": [-9, 20], "nice": false, "zero": false},
              "axis": {"orient": "left", "title": null, "domain": false, "labelOverlap": false,
                "values": [-9, -8, -7, -6, -5, -4, -3, -2, -1, 0, 1, 2, 3, 4, 5, 6, 7, 8, 9, 10, 11, 12, 13, 14, 15, 16, 17],
                "labelExpr": "datum.value % 5 == 0 ? '' + datum.value : ''",
                "tickSize": {"condition": {"test": "datum.value % 5 == 0", "value": 6}, "value": 3}}},
            "y2": {"field": "y2"},
            "strokeDash": {"field": "s", "type": "nominal", "legend": null,
              "scale": {"domain": ["solid", "dashed", "dotted", "gray", "arrow", "axis", "rthick", "rthin", "rdot", "bdd"],
                "range": [[1, 0], [8, 4], [2, 8], [1, 0], [1, 0], [1, 0], [5, 3], [4, 3], [1.5, 2.5], [6, 2, 1.5, 2]]}},
            "color": {"condition": [{"test": "datum.s == 'gray'", "value": "#9a9a9a"}], "value": "#1a1a1a"},
            "strokeWidth": {"condition": [{"test": "datum.s == 'solid'", "value": 1.8}, {"test": "indexof(['dashed', 'dotted', 'axis'], datum.s) >= 0", "value": 1.4}], "value": 1}
          }
        },
        {
          "data": {"name": "brp"},
          "mark": {"type": "point", "filled": true, "opacity": 1},
          "encoding": {
            "x": {"field": "x", "type": "quantitative", "axis": null},
            "y": {"field": "y", "type": "quantitative", "axis": null},
            "shape": {"field": "sym", "type": "nominal", "legend": {"title": null, "columns": 2, "values": ["Dasatinib", "Dofetilide", "Lapatinib", "Moxifloxacin", "Nilotinib", "Paliperidone", "Sunitinib", "Alfuzosin", "Tolterodine", "Vardenafil"]},
              "scale": {"domain": ["Dasatinib", "Dofetilide", "Lapatinib", "Moxifloxacin", "Nilotinib", "Paliperidone", "Sunitinib", "Alfuzosin", "Tolterodine", "Vardenafil", "dot", "tri"],
                "range": ["M-1,-1H1V1H-1Z M-0.72,-0.72V0.72H0.72V-0.72Z M-1,0H1V1H-1Z", "M-1,-1H1V1H-1Z M-0.72,-0.72V0.72H0.72V-0.72Z", "M-1,-1H1V1H-1Z M-0.72,-0.72V0.72H0.72V-0.72Z M-0.72,-0.5L-0.5,-0.72L0.72,0.5L0.5,0.72Z M0.5,-0.72L0.72,-0.5L-0.5,0.72L-0.72,0.5Z", "M-1,-1H1V1H-1Z M-0.72,-0.72V0.72H0.72V-0.72Z M0,-1H1V1H0Z", "M-1,-1H1V1H-1Z M-0.72,-0.72V0.72H0.72V-0.72Z M-0.36,-1H-0.12V1H-0.36Z M0.12,-1H0.36V1H0.12Z M-1,-0.42H1V-0.18H-1Z", "M-1,-1H1V1H-1Z M-0.72,-0.72V0.72H0.72V-0.72Z M-0.12,-1H0.12V1H-0.12Z M-1,-0.12H1V0.12H-1Z", "M-1,-1H1V1H-1Z M-0.72,-0.72V0.72H0.72V-0.72Z M-1,-0.55H1V0.15H-1Z", "M0,-1L1,0.8H-1Z M0,-0.42L-0.6,0.55H0.6Z M0,-1L1,0.8H0Z", "M0,-1L1,0.8H-1Z", "M0,-1L1,0.8H-1Z M0,-0.42L-0.6,0.55H0.6Z M0,-1V0.8H-1Z", "circle", "triangle-right"]}},
            "color": {"field": "sym", "type": "nominal", "legend": {"title": null, "columns": 2, "values": ["Dasatinib", "Dofetilide", "Lapatinib", "Moxifloxacin", "Nilotinib", "Paliperidone", "Sunitinib", "Alfuzosin", "Tolterodine", "Vardenafil"]},
              "scale": {"domain": ["Dasatinib", "Dofetilide", "Lapatinib", "Moxifloxacin", "Nilotinib", "Paliperidone", "Sunitinib", "Alfuzosin", "Tolterodine", "Vardenafil", "dot", "tri"],
                "range": ["#e3262b", "#e3262b", "#e3262b", "#e3262b", "#e3262b", "#e3262b", "#e3262b", "#2020d0", "#2020d0", "#2020d0", "#000000", "#000000"]}},
            "size": {"condition": [{"test": "datum.sym == 'dot'", "value": 70}, {"test": "datum.sym == 'tri'", "value": 85}], "value": 56}
          }
        },
        {
          "data": {"name": "brl"},
          "mark": {"type": "text", "fontSize": 13, "color": "#222"},
          "encoding": {
            "x": {"field": "x", "type": "quantitative", "axis": {"orient": "top", "title": "“Minimal IC₅₀ ”", "labels": false, "ticks": false, "domain": false, "titleY": -1.5, "titleBaseline": "middle", "titleFontSize": 16.5, "titleColor": "#111"}},
            "y": {"field": "y", "type": "quantitative", "axis": null},
            "text": {"field": "t"}
          }
        }
      ]
    }
  ]
}
